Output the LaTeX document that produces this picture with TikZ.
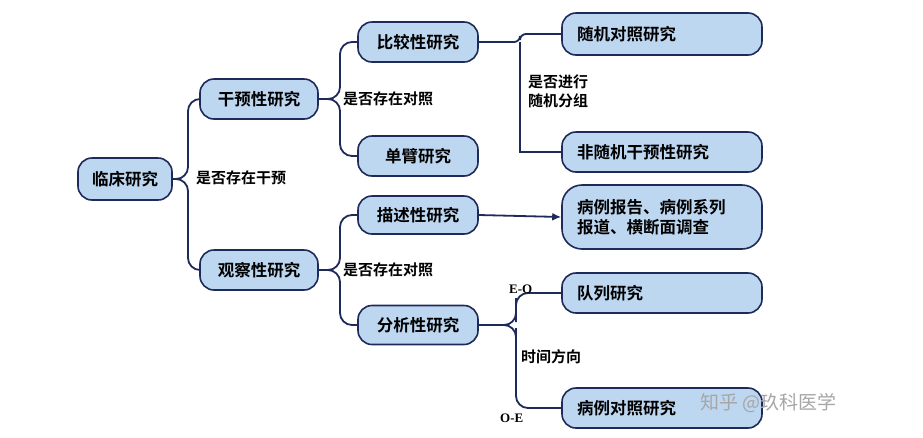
\documentclass[tikz,border=0pt]{standalone}
\usepackage{fontspec}
\setmainfont{Noto Sans CJK SC}[BoldFont={Noto Sans CJK SC Bold}]
\newfontfamily\serifx{Liberation Serif}
\usetikzlibrary{arrows.meta}
\definecolor{nfill}{HTML}{BDD7F1}
\definecolor{nline}{HTML}{1E2A5A}
\begin{document}
\begin{tikzpicture}[x=1pt,y=-1pt,
  box/.style={draw=nline,line width=1.6pt,fill=nfill,rounded corners=14pt,font=\bfseries\fontsize{16.5}{20}\selectfont,inner sep=0pt},
  rbox/.style={box,minimum width=200pt,text width=170pt,align=left},
  con/.style={draw=nline,line width=1.8pt,rounded corners=12pt},
  lab/.style={font=\bfseries\fontsize{15}{19}\selectfont,anchor=west,align=left,inner sep=0pt}]
\path[use as bounding box] (0,0) rectangle (923,437);
\node[box,minimum width=94pt,minimum height=42pt] (lc) at (125,179) {临床研究};
\node[box,minimum width=118pt,minimum height=40pt] (gy) at (259,99) {干预性研究};
\node[box,minimum width=118pt,minimum height=40pt] (gc) at (259,270) {观察性研究};
\node[box,minimum width=120pt,minimum height=40pt] (bj) at (418,42) {比较性研究};
\node[box,minimum width=120pt,minimum height=40pt] (db) at (418,156) {单臂研究};
\node[box,minimum width=120pt,minimum height=38pt] (ms) at (418,215) {描述性研究};
\node[box,minimum width=120pt,minimum height=39pt] (fx) at (418,325) {分析性研究};
\node[rbox,minimum height=42pt] (sj) at (662,34) {随机对照研究};
\node[rbox,minimum height=40pt] (fs) at (662,152) {非随机干预性研究};
\node[rbox,minimum height=64pt,rounded corners=20pt] (bl) at (662,217) {病例报告、病例系列\\报道、横断面调查};
\node[rbox,minimum height=40pt] (dl) at (662,293) {队列研究};
\node[rbox,minimum height=40pt] (bd) at (662,408) {病例对照研究};
\path[con] (lc.east) -| (188,150) |- (gy.west);
\path[con] (lc.east) -| (188,210) |- (gc.west);
\path[con] (gy.east) -| (340,70) |- (bj.west);
\path[con] (gy.east) -| (340,130) |- (db.west);
\path[con] (gc.east) -| (340,240) |- (ms.west);
\path[con] (gc.east) -| (340,300) |- (fx.west);
\path[con,rounded corners=6pt] (bj.east) -- (520,42) |- (sj.west);
\path[con,rounded corners=0pt] (520,42) |- (fs.west);
\draw[nline,line width=1.8pt,-{Latex[length=9pt,width=8pt]}] (ms.east) -- (bl.west);
\path[con] (fx.east) -| (516,310) |- (dl.west);
\path[con] (fx.east) -| (516,340) |- (bd.west);
\node[lab] (l1) at (196,178) {是否存在干预};
\node[lab] (l2) at (343,99) {是否存在对照};
\node[lab] (l3) at (343,270) {是否存在对照};
\node[lab] (l4) at (528,91) {是否进行\\随机分组};
\node[lab] (l5) at (521,357) {时间方向};
\node[lab,font=\serifx\bfseries\fontsize{13}{16}\selectfont] (l6) at (509,289) {E-O};
\node[lab,font=\serifx\bfseries\fontsize{13}{16}\selectfont] (l7) at (500,418) {O-E};
\node[lab,text=gray!70,font=\fontsize{19}{22}\selectfont] (wm) at (700,403) {知乎 @玖科医学};
\end{tikzpicture}
\end{document}
